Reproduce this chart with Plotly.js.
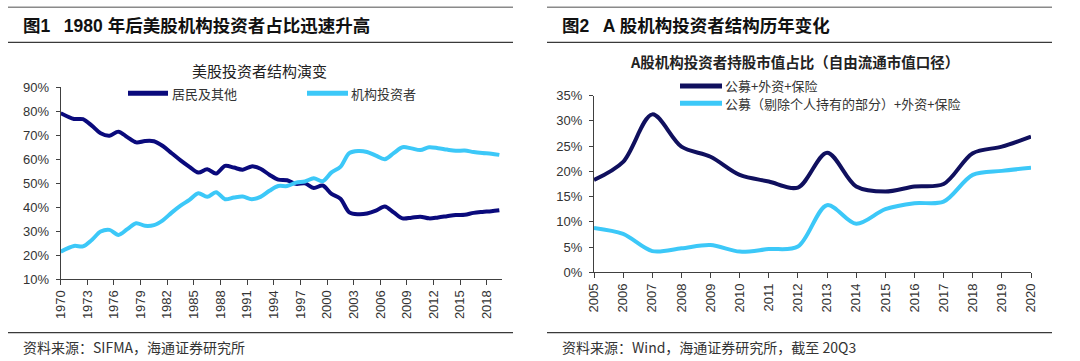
<!DOCTYPE html>
<html>
<head>
<meta charset="utf-8">
<script src="https://cdn.plot.ly/plotly-3.0.1.min.js"></script>
<style>
html,body{margin:0;padding:0;background:#fff;}
#chart{width:1080px;height:361px;}
</style>
</head>
<body>
<div id="chart"></div>
<script>
// ---------- Data: left chart (US equity investor structure, %) ----------
const leftYears = [1970, 1971.5, 1972.5, 1973.5, 1974.5, 1975.5, 1976.5, 1977.5, 1978.5, 1979.5,
  1980.5, 1981.5, 1982.5, 1983.5, 1984.5, 1985.5, 1986.5, 1987.5, 1988.5, 1989.5,
  1990.5, 1991.5, 1992.5, 1993.5, 1994.5, 1995.5, 1996.5, 1997.5, 1998.5, 1999.5,
  2000.5, 2001.5, 2002.5, 2003.5, 2004.5, 2005.5, 2006.5, 2007.5, 2008.5, 2009.5,
  2010.5, 2011.5, 2012.5, 2013.5, 2014.5, 2015.5, 2016.5, 2017.5, 2018.5, 2019.4];
const residentsOther = [79.2, 76.8, 76.7, 74.0, 70.8, 69.8, 71.5, 69.2, 67.0, 67.6,
  67.5, 65.5, 62.5, 59.5, 56.8, 54.4, 55.8, 54.0, 57.2, 56.5,
  55.6, 57.0, 56.0, 53.5, 51.5, 51.2, 49.7, 49.9, 48.0, 49.0,
  45.5, 43.5, 37.8, 37.0, 37.3, 38.5, 40.3, 37.8, 35.3, 35.6,
  36.0, 35.3, 35.7, 36.2, 36.7, 36.8, 37.6, 38.0, 38.3, 38.7];
const institutions = [21.4, 23.8, 23.6, 26.3, 29.8, 30.5, 28.4, 30.8, 33.3, 32.2,
  32.5, 34.5, 37.7, 40.6, 43.0, 45.8, 44.3, 46.2, 43.3, 44.0,
  44.4, 43.3, 44.3, 46.8, 48.8, 48.8, 50.2, 50.7, 52.0, 50.8,
  54.5, 56.8, 62.5, 63.4, 63.0, 61.5, 60.0, 62.5, 65.0, 64.5,
  63.8, 65.0, 64.6, 64.0, 63.5, 63.6, 63.0, 62.6, 62.3, 61.8];
const leftTickYears = [1970, 1973, 1976, 1979, 1982, 1985, 1988, 1991, 1994, 1997,
  2000, 2003, 2006, 2009, 2012, 2015, 2018];
const leftTickLabels = leftTickYears.map(String);

// ---------- Data: right chart (A-share institutional holdings, %) ----------
const rightYears = [2005, 2006, 2007, 2008, 2009, 2010, 2011, 2012,
  2013, 2014, 2015, 2016, 2017, 2018, 2019, 2020];
const fundsForeignInsurance = [18.3, 21.9, 31.3, 24.9, 22.9, 19.3, 18.0, 16.8,
  23.7, 17.0, 16.0, 17.0, 17.5, 23.6, 24.9, 26.9];
const fundsExPersonal = [8.8, 7.6, 4.2, 4.75, 5.4, 4.1, 4.6, 5.1,
  13.3, 9.6, 12.5, 13.7, 14.0, 19.3, 20.1, 20.7];
const rightTickLabels = rightYears.map(String);

// ---------- Text ----------
const header1 = '图1\u2002 1980 年后美股机构投资者占比迅速升高';
const header2 = '图2\u2002 A 股机构投资者结构历年变化';
const title1 = '美股投资者结构演变';
const title2 = 'A股机构投资者持股市值占比（自由流通市值口径）';
const legendL = ['居民及其他', '机构投资者'];
const legendR = ['公募+外资+保险', '公募（剔除个人持有的部分）+外资+保险'];
const source1 = '资料来源：SIFMA，海通证券研究所';
const source2 = '资料来源：Wind，海通证券研究所，截至 20Q3';

// ---------- Styling helpers ----------
const W = 1080, H = 361;
const px = v => v / W;
const py = v => 1 - v / H;
const NAVY_L = '#0a0a7c';
const NAVY_R = '#10105e';
const CYAN = '#3cc8f8';
const AXIS = '#404040';
const TXT = '#333333';
const NUMFONT = 'Liberation Sans, Arial, Noto Sans CJK SC, sans-serif';
const CJK = 'Noto Sans CJK SC, Liberation Sans, sans-serif';

const lineStyle = c => ({color: c, width: 4, shape: 'spline', smoothing: 0.9});

const traces = [
  {x: leftYears, y: residentsOther, xaxis: 'x', yaxis: 'y', mode: 'lines', name: legendL[0], line: lineStyle(NAVY_L), hoverinfo: 'skip'},
  {x: leftYears, y: institutions, xaxis: 'x', yaxis: 'y', mode: 'lines', name: legendL[1], line: lineStyle(CYAN), hoverinfo: 'skip'},
  {x: rightYears, y: fundsForeignInsurance, xaxis: 'x2', yaxis: 'y2', mode: 'lines', name: legendR[0], line: lineStyle(NAVY_R), hoverinfo: 'skip'},
  {x: rightYears, y: fundsExPersonal, xaxis: 'x2', yaxis: 'y2', mode: 'lines', name: legendR[1], line: lineStyle(CYAN), hoverinfo: 'skip'}
];

const xCommon = {
  showgrid: false, zeroline: false, showline: true, linecolor: AXIS, linewidth: 1,
  ticks: 'outside', ticklen: 5, tickcolor: AXIS, tickwidth: 1, tickangle: -90,
  tickfont: {family: NUMFONT, size: 13, color: TXT}, fixedrange: true
};
const yCommon = {
  showgrid: false, zeroline: false, showline: true, linecolor: AXIS, linewidth: 1,
  ticks: 'outside', ticklen: 4, tickcolor: AXIS, tickwidth: 1, ticksuffix: '%',
  tickfont: {family: NUMFONT, size: 13, color: TXT}, ticklabelstandoff: 4, fixedrange: true
};

const layout = {
  width: W, height: H,
  margin: {l: 0, r: 0, t: 0, b: 0},
  paper_bgcolor: '#ffffff', plot_bgcolor: '#ffffff',
  showlegend: false,
  xaxis: Object.assign({}, xCommon, {
    domain: [px(60.7), px(502)], range: [1970, 2019.7],
    tickmode: 'array', tickvals: leftTickYears, ticktext: leftTickLabels, anchor: 'y'
  }),
  yaxis: Object.assign({}, yCommon, {
    domain: [py(279), py(87.3)], range: [10, 90], tickmode: 'linear', tick0: 10, dtick: 10, anchor: 'x'
  }),
  xaxis2: Object.assign({}, xCommon, {
    domain: [px(594), px(1031)], range: [2005, 2020],
    tickmode: 'array', tickvals: rightYears, ticktext: rightTickLabels, anchor: 'y2'
  }),
  yaxis2: Object.assign({}, yCommon, {
    domain: [py(272.3), py(95.7)], range: [0, 35], tickmode: 'linear', tick0: 0, dtick: 5, anchor: 'x2'
  }),
  shapes: [],
  annotations: []
};

function hline(x0, x1, y, color, w) {
  layout.shapes.push({type: 'line', xref: 'paper', yref: 'paper', x0: px(x0), x1: px(x1), y0: py(y), y1: py(y),
    line: {color: color, width: w}});
}
function text(t, x, y, opts) {
  layout.annotations.push(Object.assign({
    text: t, xref: 'paper', yref: 'paper', x: px(x), y: py(y), xanchor: 'left', yanchor: 'middle',
    showarrow: false, font: {family: CJK, size: 13, color: TXT}
  }, opts || {}));
}

// panel rules
hline(8, 513, 7.3, '#8a8a8a', 1.5);
hline(8, 513, 42.3, '#3a3a3a', 1.3);
hline(8, 513, 332.7, '#3a3a3a', 1.3);
hline(547, 1052, 7.3, '#8a8a8a', 1.5);
hline(547, 1052, 42.3, '#3a3a3a', 1.3);
hline(547, 1052, 332.7, '#3a3a3a', 1.3);

// headers
text('<b>' + header1 + '</b>', 21, 26.5, {font: {family: 'Liberation Sans, Noto Sans CJK SC, sans-serif', size: 17.5, color: '#111'}});
text('<b>' + header2 + '</b>', 560, 26.5, {font: {family: 'Liberation Sans, Noto Sans CJK SC, sans-serif', size: 17.5, color: '#111'}});

// chart titles
text(title1, 259, 70, {xanchor: 'center', font: {family: CJK, size: 15, color: '#222'}});
text('<b>' + title2 + '</b>', 794, 61.5, {xanchor: 'center', font: {family: CJK, size: 14.5, color: '#222'}});

// legends (manual)
hline(128, 168, 93.3, NAVY_L, 5);
text(legendL[0], 170, 93.3);
hline(307, 348, 93.3, CYAN, 5);
text(legendL[1], 349, 93.3);
hline(680, 722, 86, NAVY_R, 5);
text(legendR[0], 723, 86);
hline(680, 722, 103.3, CYAN, 5);
text(legendR[1], 723, 103.3);

// sources
text(source1, 21, 347, {font: {family: CJK, size: 14, color: TXT}});
text(source2, 560, 347, {font: {family: CJK, size: 14, color: TXT}});

Plotly.newPlot('chart', traces, layout, {staticPlot: true, displayModeBar: false});
</script>
</body>
</html>
